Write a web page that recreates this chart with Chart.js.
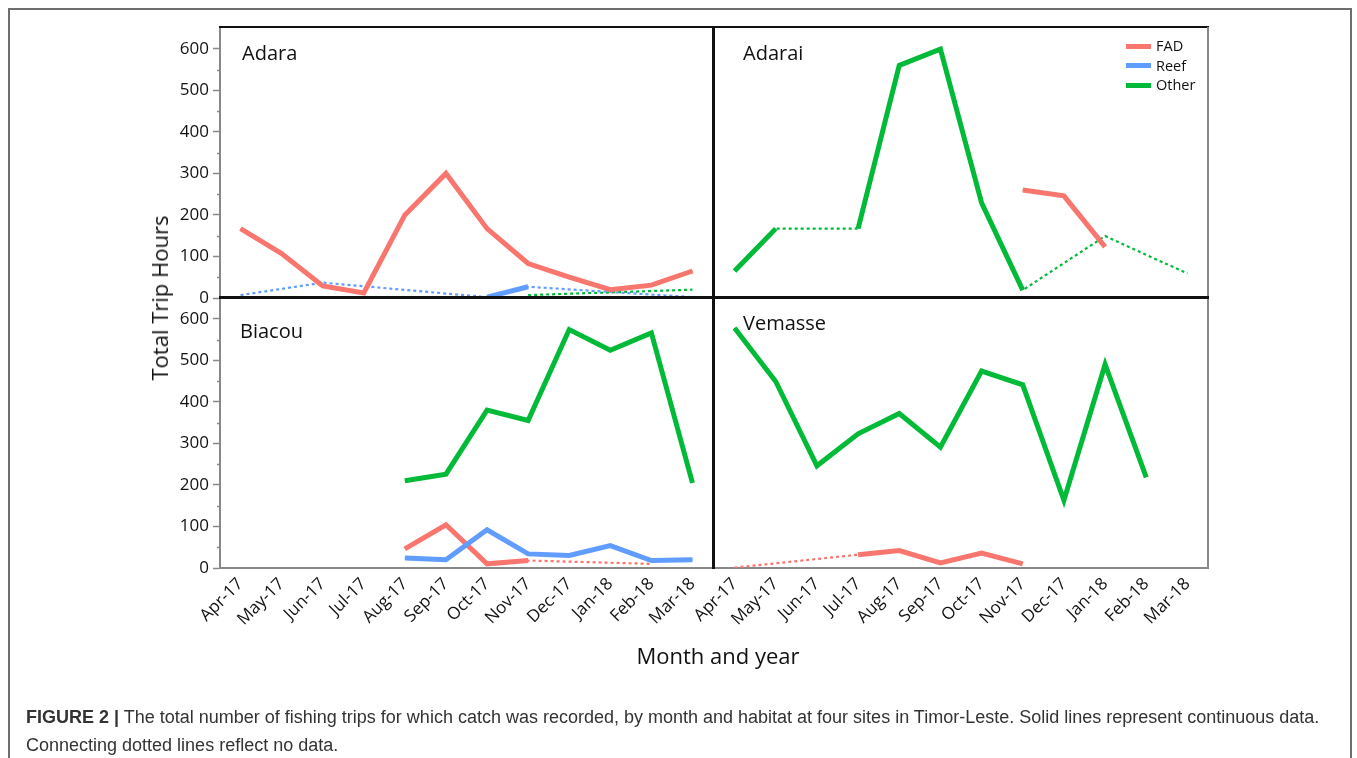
<!DOCTYPE html>
<html>
<head>
<meta charset="utf-8">
<script src="https://cdn.jsdelivr.net/npm/chart.js@4.4.1/dist/chart.umd.min.js"></script>
<style>
    html, body { margin: 0; padding: 0; background: #fff; }
    body { width: 1357px; height: 758px; position: relative; overflow: hidden; font-family: 'Open Sans', sans-serif; color: #111; }
    canvas { position: absolute; left: 0; top: 0; }
    .line { position: absolute; z-index: 5; }
    .label { position: absolute; z-index: 6; font-size: 20px; line-height: 20px; white-space: nowrap; }
    .outer { position: absolute; left: 8px; top: 8px; width: 1344px; height: 800px; border: 2px solid #6e6e6e; box-sizing: border-box; }
    .legend { position: absolute; left: 1126px; top: 36px; z-index: 6; font-size: 14.5px; }
    .legend div { height: 19.5px; line-height: 19.5px; white-space: nowrap; }
    .legend span { display: inline-block; width: 25px; height: 5px; vertical-align: middle; margin-right: 5px; margin-top: -2px; }
    .caption { position: absolute; left: 26px; top: 703px; font-family: 'Liberation Sans', Arial, sans-serif; font-size: 18px; line-height: 28px; color: #333; white-space: nowrap; }
</style>
</head>
<body>
<div class="outer"></div>
<canvas id="adara" width="1357" height="758"></canvas>
<canvas id="adarai" width="1357" height="758"></canvas>
<canvas id="biacou" width="1357" height="758"></canvas>
<canvas id="vemasse" width="1357" height="758"></canvas>

<!-- panel frame -->
<div class="line" style="left:219px; top:26px; width:990px; height:2px; background:#111;"></div>
<div class="line" style="left:1207px; top:27px; width:2px; height:542px; background:#888;"></div>
<div class="line" style="left:712px; top:26px; width:3px; height:543px; background:#111;"></div>
<div class="line" style="left:219px; top:296px; width:990px; height:3px; background:#111;"></div>

<div class="label" style="left:242px; top:43px;">Adara</div>
<div class="label" style="left:743px; top:43px;">Adarai</div>
<div class="label" style="left:240px; top:321px;">Biacou</div>
<div class="label" style="left:743px; top:313px;">Vemasse</div>

<div class="legend">
    <div><span style="background:#F8766D"></span>FAD</div>
    <div><span style="background:#619CFF"></span>Reef</div>
    <div><span style="background:#00BA38"></span>Other</div>
</div>

<div class="label" style="left:159px; top:298px; font-size:22px; transform:translate(-50%,-50%) rotate(-90deg);">Total Trip Hours</div>
<div class="label" style="left:718px; top:643px; font-size:22px; line-height:24px; transform:translateX(-50%);">Month and year</div>

<div class="caption"><b>FIGURE 2 |</b> The total number of fishing trips for which catch was recorded, by month and habitat at four sites in Timor-Leste. Solid lines represent continuous data.<br>Connecting dotted lines reflect no data.</div>

<script>
const months = ['Apr-17', 'May-17', 'Jun-17', 'Jul-17', 'Aug-17', 'Sep-17', 'Oct-17', 'Nov-17', 'Dec-17', 'Jan-18', 'Feb-18', 'Mar-18'];
const yTicks = [0, 100, 200, 300, 400, 500, 600];
const habitats = ['FAD', 'Reef', 'Other'];
const colors = { FAD: '#F8766D', Reef: '#619CFF', Other: '#00BA38' };

// null = no data that month
const adaraFad = [167, 107, 29, 12, 200, 300, 167, 83, 50, 20, 31, 65];
const adaraReef = [7, null, 37, null, null, null, 2, 27, null, null, null, 2];
const adaraOther = [null, null, null, null, null, null, null, 7, null, null, null, 20];

const adaraiFad = [null, null, null, null, null, null, null, 260, 246, 123, null, null];
const adaraiReef = [null, null, null, null, null, null, null, null, null, null, null, null];
const adaraiOther = [65, 167, null, 167, 560, 599, 229, 19, null, 149, null, 59];

const biacouFad = [null, null, null, null, 46, 104, 10, 18, null, null, 10, null];
const biacouReef = [null, null, null, null, 24, 20, 92, 34, 30, 54, 18, 20];
const biacouOther = [null, null, null, null, 210, 226, 380, 355, 574, 524, 566, 205];

const vemasseFad = [1, null, null, 32, 42, 12, 36, 10, null, null, null, null];
const vemasseReef = [null, null, null, null, null, null, null, null, null, null, null, null];
const vemasseOther = [578, 449, 246, 323, 372, 291, 474, 441, 163, 490, 218, null];

const FONT = "'Open Sans', sans-serif";

// short minor ticks half way between the labelled ones
const minorTicks = {
    id: 'minorTicks',
    afterDraw(chart) {
        const y = chart.scales.y;
        if (!y.options.display) return;
        const ctx = chart.ctx;
        ctx.save();
        ctx.strokeStyle = '#888';
        ctx.lineWidth = 1.5;
        for (let v = 50; v < 650; v += 100) {
            const py = Math.round(y.getPixelForValue(v)) + 0.5;
            ctx.beginPath();
            ctx.moveTo(chart.chartArea.left - 3, py);
            ctx.lineTo(chart.chartArea.left, py);
            ctx.stroke();
        }
        ctx.restore();
    },
};

function buildDatasets(values) {
    const sets = [];
    habitats.forEach((h, i) => {
        const data = values[i];
        if (data.every((v) => v === null)) return;
        // dotted line bridges the months without data
        sets.push({
            label: h + ' gap',
            data: data,
            borderColor: colors[h],
            borderWidth: 2.2,
            borderDash: [3, 3],
            spanGaps: true,
            pointRadius: 0,
            order: 10,
        });
        sets.push({
            label: h,
            data: data,
            borderColor: colors[h],
            borderWidth: 5,
            borderJoinStyle: 'miter',
            spanGaps: false,
            pointRadius: 0,
            order: 3 - i,
        });
    });
    return sets;
}

function drawPanel(id, values, left, top) {
    const showY = left;
    const showX = !top;
    new Chart(document.getElementById(id), {
        type: 'line',
        data: { labels: months, datasets: buildDatasets(values) },
        options: {
            responsive: false,
            animation: false,
            events: [],
            layout: {
                padding: {
                    left: left ? 140 : 714,
                    right: left ? 644 : 149,
                    top: top ? 28 : 298,
                    bottom: top ? 460 : 110,
                },
            },
            plugins: { legend: { display: false }, tooltip: { enabled: false } },
            scales: {
                x: {
                    display: showX,
                    offset: true,
                    grid: { display: false, drawTicks: false },
                    border: { display: true, color: '#888', width: 2 },
                    ticks: {
                        autoSkip: false,
                        maxRotation: 45,
                        minRotation: 45,
                        padding: 6,
                        color: '#111',
                        font: { family: FONT, size: 17 },
                    },
                    afterFit: (scale) => { scale.height = showX ? 80 : 0; },
                },
                y: {
                    display: showY,
                    min: 0,
                    max: 650,
                    afterBuildTicks: (scale) => { scale.ticks = yTicks.map((v) => ({ value: v })); },
                    grid: { drawOnChartArea: false, drawTicks: true, tickLength: 7, tickColor: '#888', tickWidth: 1.5 },
                    border: { display: true, color: '#888', width: 2 },
                    ticks: { padding: 4, color: '#111', font: { family: FONT, size: 17 } },
                    afterFit: (scale) => { scale.width = showY ? 80 : 0; },
                },
            },
        },
        plugins: [minorTicks],
    });
}

drawPanel('adara', [adaraFad, adaraReef, adaraOther], true, true);
drawPanel('adarai', [adaraiFad, adaraiReef, adaraiOther], false, true);
drawPanel('biacou', [biacouFad, biacouReef, biacouOther], true, false);
drawPanel('vemasse', [vemasseFad, vemasseReef, vemasseOther], false, false);
</script>
</body>
</html>
